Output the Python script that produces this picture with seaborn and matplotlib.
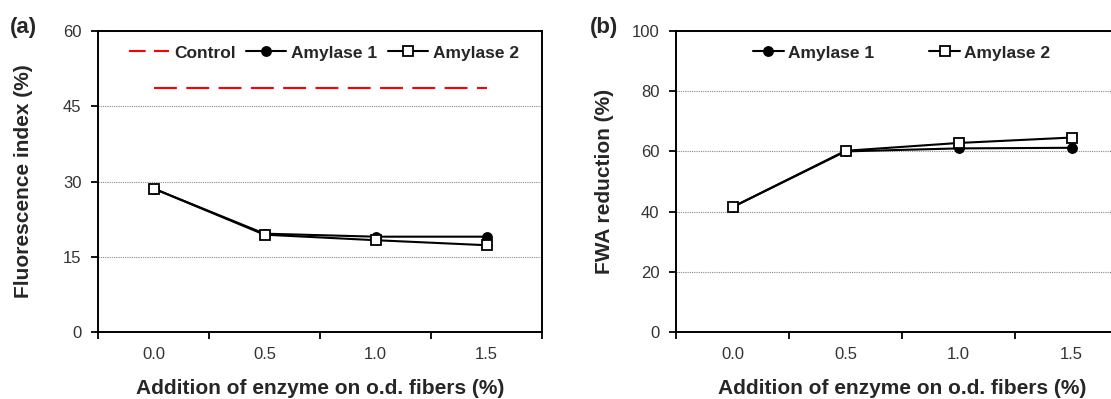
import numpy as np
import pandas as pd
import matplotlib.pyplot as plt
from matplotlib.ticker import FixedLocator
import seaborn as sns


DOSES = ['0.0', '0.5', '1.0', '1.5']

# (a) fluorescence index (%)
FI_CONTROL   = [48.7, 48.7, 48.7, 48.7]
FI_AMYLASE_1 = [28.6, 19.6, 19.0, 19.0]
FI_AMYLASE_2 = [28.6, 19.4, 18.3, 17.3]

# (b) FWA reduction (%)
FWA_AMYLASE_1 = [41.5, 60.0, 61.0, 61.2]
FWA_AMYLASE_2 = [41.5, 60.2, 62.8, 64.6]

XLABEL = 'Addition of enzyme on o.d. fibers (%)'

sns.set_theme(style='ticks')
plt.rcParams['font.family'] = ['Liberation Sans', 'DejaVu Sans']
plt.rcParams['axes.edgecolor'] = 'black'


def draw_series(ax, values, label, marker, face, size):
    sns.lineplot(x=DOSES, y=values, ax=ax, sort=False, color='black',
                 linewidth=1.5, marker=marker, markersize=size,
                 markerfacecolor=face, markeredgecolor='black',
                 markeredgewidth=1.3, label=label)


def style_axes(ax, yticks, ylabel, label_x, panel, panel_x):
    ax.set_xlim(-0.5, 3.5)
    ax.set_ylim(yticks[0], yticks[-1])
    ax.set_yticks(yticks)
    ax.xaxis.set_minor_locator(FixedLocator([-0.5, 0.5, 1.5, 2.5, 3.5]))
    ax.tick_params(axis='x', which='major', length=0, pad=11,
                   labelsize=12, labelcolor='#333333')
    ax.tick_params(axis='x', which='minor', length=5, width=1.3,
                   direction='out', color='black')
    ax.tick_params(axis='y', length=5, width=1.3, direction='out',
                   color='black', pad=7, labelsize=12, labelcolor='#333333')
    ax.yaxis.grid(True, color='#888888', linestyle=(0, (1, 1)), linewidth=0.8)
    ax.set_axisbelow(True)
    for sp in ax.spines.values():
        sp.set_linewidth(1.4)
        sp.set_color('black')
    ax.set_xlabel(XLABEL, fontsize=15, fontweight='bold', labelpad=12)
    ax.set_ylabel(ylabel, fontsize=15, fontweight='bold')
    ax.yaxis.set_label_coords(label_x, 0.5)
    ax.figure.text(panel_x, 0.93, panel, fontsize=16, fontweight='bold',
                   ha='left', va='center')


fig = plt.figure(figsize=(11.11, 3.99), dpi=100)
ax_a = fig.add_axes([98 / 1111, 67 / 399, 444 / 1111, 301 / 399])
ax_b = fig.add_axes([676 / 1111, 67 / 399, 452 / 1111, 301 / 399])

# panel (a)
sns.lineplot(x=DOSES, y=FI_CONTROL, ax=ax_a, sort=False, color='#ff0000',
             linewidth=1.5, linestyle=(0, (11, 4.5)), label='Control')
draw_series(ax_a, FI_AMYLASE_1, 'Amylase 1', 'o', 'black', 6.5)
draw_series(ax_a, FI_AMYLASE_2, 'Amylase 2', 's', 'white', 7.5)
style_axes(ax_a, [0, 15, 30, 45, 60], 'Fluorescence index (%)', -0.146,
           '(a)', 10 / 1111)
leg_a = ax_a.legend(loc='center left', bbox_to_anchor=(0.07, 0.927), ncol=3,
                    frameon=False, borderaxespad=0, borderpad=0,
                    handlelength=2.3, handletextpad=0.3, columnspacing=0.6,
                    prop={'size': 12.5, 'weight': 'bold'})
leg_a.get_lines()[0].set_linestyle((0, (8, 4)))

# panel (b)
draw_series(ax_b, FWA_AMYLASE_1, 'Amylase 1', 'o', 'black', 6.5)
draw_series(ax_b, FWA_AMYLASE_2, 'Amylase 2', 's', 'white', 7.5)
style_axes(ax_b, [0, 20, 40, 60, 80, 100], 'FWA reduction (%)', -0.137,
           '(b)', 590 / 1111)
ax_b.legend(loc='center left', bbox_to_anchor=(0.17, 0.927), ncol=2,
            frameon=False, borderaxespad=0, borderpad=0, handlelength=1.8,
            handletextpad=0.2, columnspacing=3.2,
            prop={'size': 12.5, 'weight': 'bold'})

fig.savefig('out.png', dpi=100)
